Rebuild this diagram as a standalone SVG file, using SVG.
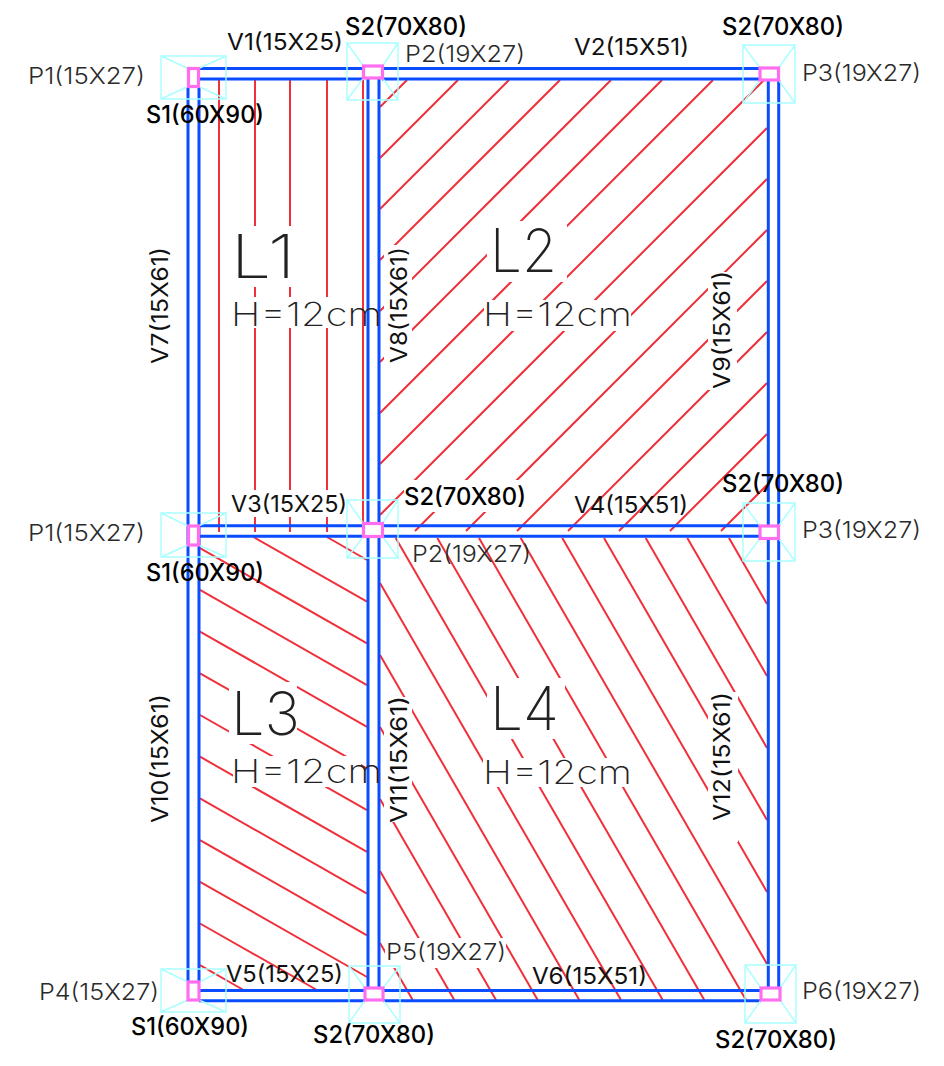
<svg xmlns="http://www.w3.org/2000/svg" width="944" height="1066" viewBox="0 0 944 1066">
<style>
text{font-family:"Inter","Liberation Sans",sans-serif}
.hatch{fill:none;stroke:#f0303a;stroke-width:2}
.foot{fill:none;stroke:#a8ffff;stroke-width:1.4}
.beam{fill:none;stroke:#0a4cff;stroke-width:3}
.col{fill:#fff;stroke:#ff6ef0;stroke-width:3.2}
.p{font-size:23px;font-weight:300;fill:#2a2a2a}
.s{font-size:24px;font-weight:500;fill:#000}
.v{font-size:23px;font-weight:400;fill:#111}
.l{font-size:60px;font-weight:200;fill:#222}
.h{font-size:33px;font-weight:200;fill:#222}
</style>
<defs>
<mask id="gaps" maskUnits="userSpaceOnUse" x="0" y="0" width="944" height="1066">
<rect width="944" height="1066" fill="#fff"/>
<g fill="#000">
<rect x="232" y="226" width="66" height="61"/>
<rect x="231" y="297" width="114" height="31"/>
<rect x="230" y="490" width="117" height="27"/>
<rect x="487" y="221" width="80" height="61"/>
<rect x="484" y="300" width="147" height="31"/>
<rect x="384" y="245" width="28" height="120"/>
<rect x="708" y="272" width="29" height="118"/>
<rect x="404" y="480" width="123" height="32"/>
<rect x="229" y="682" width="68" height="62"/>
<rect x="233" y="756" width="128" height="31"/>
<rect x="487" y="678" width="78" height="61"/>
<rect x="483" y="758" width="148" height="29"/>
<rect x="384" y="697" width="28" height="125"/>
<rect x="708" y="692" width="30" height="150"/>
<rect x="385" y="938" width="121" height="30"/>
</g>
</mask>
</defs>
<g id="hatching" mask="url(#gaps)">
<path id="hatch-L1" class="hatch" d="M219 80V532M255 80V532M290 80V532M327 80V532M363 80V532"/>
<path id="hatch-L2" class="hatch" d="M380 107L407 80M380 158L458 80M380 209L509 80M380 260L560 80M380 311L611 80M380 362L662 80M380 413L713 80M380 464L764 80M380 515L767 128M415 531L767 179M466 531L767 230M517 531L767 281M568 531L767 332M619 531L767 383M670 531L767 434M721 531L767 485"/>
<path id="hatch-L3" class="hatch" d="M327 537L367 560M253.500 537L367 601.700M200 548.200L367 643.400M200 589.900L367 685.100M200 631.600L367 726.800M200 673.300L367 768.500M200 715L367 810.200M200 756.700L367 851.900M200 798.400L367 893.600M200 840.100L367 935.300M200 881.800L367 977M200 923.500L316 989.500M200 965.200L242.600 989.500"/>
<path id="hatch-L4" class="hatch" d="M729 538L767 604M687.300 538L767 676M645.700 538L767 748M604 538L767 820M562.300 538L767 892M520.700 538L767 964M479 538L746 1000M437.300 538L704.300 1000M395.700 538L662.700 1000M380 583L621 1000M380 655L579.300 1000M380 727L537.700 1000M380 799L496 1000M380 871L454.300 1000M380 943L412.700 1000"/>
</g>
<g id="connectors">
<path class="beam" d="M188 87V982M199 87V982M368 79V523M379 79V523M368 537V988M379 537V988M768.300 80V526M778.700 80V526M768.300 539V988M778.700 539V988"/>
<path class="beam" d="M199 68.500H363M382 68.500H760M199 79H363M382 79H760M199 525.700H363M382 525.700H760M199 536.300H363M382 536.300H760M199 990.400H365M383 990.400H761M199 1000.800H365M383 1000.800H761"/>
</g>
<g id="P1-top"><path class="foot" d="M161 56H226V99H161ZM161 56L188 68.500M226 56L198.500 68.500M161 99L188 86.500M226 99L198.500 86.500"/><rect class="col" x="188.500" y="68.500" width="10" height="18"/></g>
<g id="P2-top"><path class="foot" d="M347 43H398V100H347ZM347 43L363.500 66M398 43L382.500 66M347 100L363.500 78M398 100L382.500 78"/><rect class="col" x="363.500" y="66" width="19" height="12"/></g>
<g id="P3-top"><path class="foot" d="M743 45H795V103H743ZM743 45L760 68M795 45L778.500 68M743 103L760 80M795 103L778.500 80"/><rect class="col" x="760" y="68" width="18.500" height="12"/></g>
<g id="P1-mid"><path class="foot" d="M161 513H226V557H161ZM161 513L188 526M226 513L198.500 526M161 557L188 545M226 557L198.500 545"/><rect class="col" x="188.500" y="526" width="10" height="19"/></g>
<g id="P2-mid"><path class="foot" d="M347 500H398V558H347ZM347 500L363.500 523.500M398 500L382.500 523.500M347 558L363.500 536.500M398 558L382.500 536.500"/><rect class="col" x="363.500" y="523.500" width="19" height="13"/></g>
<g id="P3-mid"><path class="foot" d="M743 503H795V561H743ZM743 503L760 526M795 503L778.500 526M743 561L760 538.500M795 561L778.500 538.500"/><rect class="col" x="760" y="526" width="18.500" height="12.500"/></g>
<g id="P4"><path class="foot" d="M161 969H226V1012H161ZM161 969L188 982M226 969L199 982M161 1012L188 1000M226 1012L199 1000"/><rect class="col" x="188" y="982" width="11" height="18"/></g>
<g id="P5"><path class="foot" d="M349 966H400V1023H349ZM349 966L365 988M400 966L383 988M349 1023L365 1000M400 1023L383 1000"/><rect class="col" x="365" y="988" width="18" height="12"/></g>
<g id="P6"><path class="foot" d="M745 965H796V1023H745ZM745 965L761 988M796 965L780 988M745 1023L761 1000M796 1023L780 1000"/><rect class="col" x="761" y="988" width="19" height="12"/></g>
<g id="labels">
<text class="p" x="28" y="84" textLength="117" lengthAdjust="spacingAndGlyphs">P1(15X27)</text>
<text class="s" x="146" y="123" textLength="118" lengthAdjust="spacingAndGlyphs">S1(60X90)</text>
<text class="v" x="227" y="50" textLength="116" lengthAdjust="spacingAndGlyphs">V1(15X25)</text>
<text class="s" x="345" y="35" textLength="122" lengthAdjust="spacingAndGlyphs">S2(70X80)</text>
<text class="p" x="405" y="62" textLength="120" lengthAdjust="spacingAndGlyphs">P2(19X27)</text>
<text class="v" x="574" y="55" textLength="115" lengthAdjust="spacingAndGlyphs">V2(15X51)</text>
<text class="s" x="722" y="35" textLength="122" lengthAdjust="spacingAndGlyphs">S2(70X80)</text>
<text class="p" x="802" y="81" textLength="119" lengthAdjust="spacingAndGlyphs">P3(19X27)</text>
<text class="v" x="231" y="512" textLength="116" lengthAdjust="spacingAndGlyphs">V3(15X25)</text>
<text class="s" x="404" y="505" textLength="122" lengthAdjust="spacingAndGlyphs">S2(70X80)</text>
<text class="v" x="574" y="513" textLength="114" lengthAdjust="spacingAndGlyphs">V4(15X51)</text>
<text class="s" x="722" y="492" textLength="122" lengthAdjust="spacingAndGlyphs">S2(70X80)</text>
<text class="p" x="802" y="538" textLength="119" lengthAdjust="spacingAndGlyphs">P3(19X27)</text>
<text class="p" x="28" y="541" textLength="117" lengthAdjust="spacingAndGlyphs">P1(15X27)</text>
<text class="s" x="146" y="581" textLength="118" lengthAdjust="spacingAndGlyphs">S1(60X90)</text>
<text class="p" x="412" y="562" textLength="119" lengthAdjust="spacingAndGlyphs">P2(19X27)</text>
<text class="p" x="39" y="1000" textLength="120" lengthAdjust="spacingAndGlyphs">P4(15X27)</text>
<text class="s" x="131" y="1035" textLength="118" lengthAdjust="spacingAndGlyphs">S1(60X90)</text>
<text class="v" x="226" y="982" textLength="117" lengthAdjust="spacingAndGlyphs">V5(15X25)</text>
<text class="s" x="313" y="1043" textLength="122" lengthAdjust="spacingAndGlyphs">S2(70X80)</text>
<text class="p" x="386" y="960" textLength="120" lengthAdjust="spacingAndGlyphs">P5(19X27)</text>
<text class="v" x="532" y="984" textLength="115" lengthAdjust="spacingAndGlyphs">V6(15X51)</text>
<text class="p" x="802" y="999" textLength="119" lengthAdjust="spacingAndGlyphs">P6(19X27)</text>
<text class="s" x="715" y="1048" textLength="122" lengthAdjust="spacingAndGlyphs">S2(70X80)</text>
<text class="v" transform="rotate(-90 168 364)" x="168" y="364" textLength="117" lengthAdjust="spacingAndGlyphs">V7(15X61)</text>
<text class="v" transform="rotate(-90 407 363)" x="407" y="363" textLength="116" lengthAdjust="spacingAndGlyphs">V8(15X61)</text>
<text class="v" transform="rotate(-90 730 389)" x="730" y="389" textLength="118" lengthAdjust="spacingAndGlyphs">V9(15X61)</text>
<text class="v" transform="rotate(-90 168 823)" x="168" y="823" textLength="129" lengthAdjust="spacingAndGlyphs">V10(15X61)</text>
<text class="v" transform="rotate(-90 407 823)" x="407" y="823" textLength="127" lengthAdjust="spacingAndGlyphs">V11(15X61)</text>
<text class="v" transform="rotate(-90 730 821)" x="730" y="821" textLength="129" lengthAdjust="spacingAndGlyphs">V12(15X61)</text>
<text class="l" x="231" y="278" textLength="64" lengthAdjust="spacingAndGlyphs">L1</text>
<text class="l" x="490" y="272" textLength="67" lengthAdjust="spacingAndGlyphs">L2</text>
<text class="l" x="231" y="735" textLength="69" lengthAdjust="spacingAndGlyphs">L3</text>
<text class="l" x="490" y="730" textLength="69" lengthAdjust="spacingAndGlyphs">L4</text>
<text class="h" x="231" y="326" textLength="151" lengthAdjust="spacingAndGlyphs">H=12cm</text>
<text class="h" x="483" y="326" textLength="149" lengthAdjust="spacingAndGlyphs">H=12cm</text>
<text class="h" x="231" y="783" textLength="151" lengthAdjust="spacingAndGlyphs">H=12cm</text>
<text class="h" x="483" y="784" textLength="149" lengthAdjust="spacingAndGlyphs">H=12cm</text>
</g>
</svg>
